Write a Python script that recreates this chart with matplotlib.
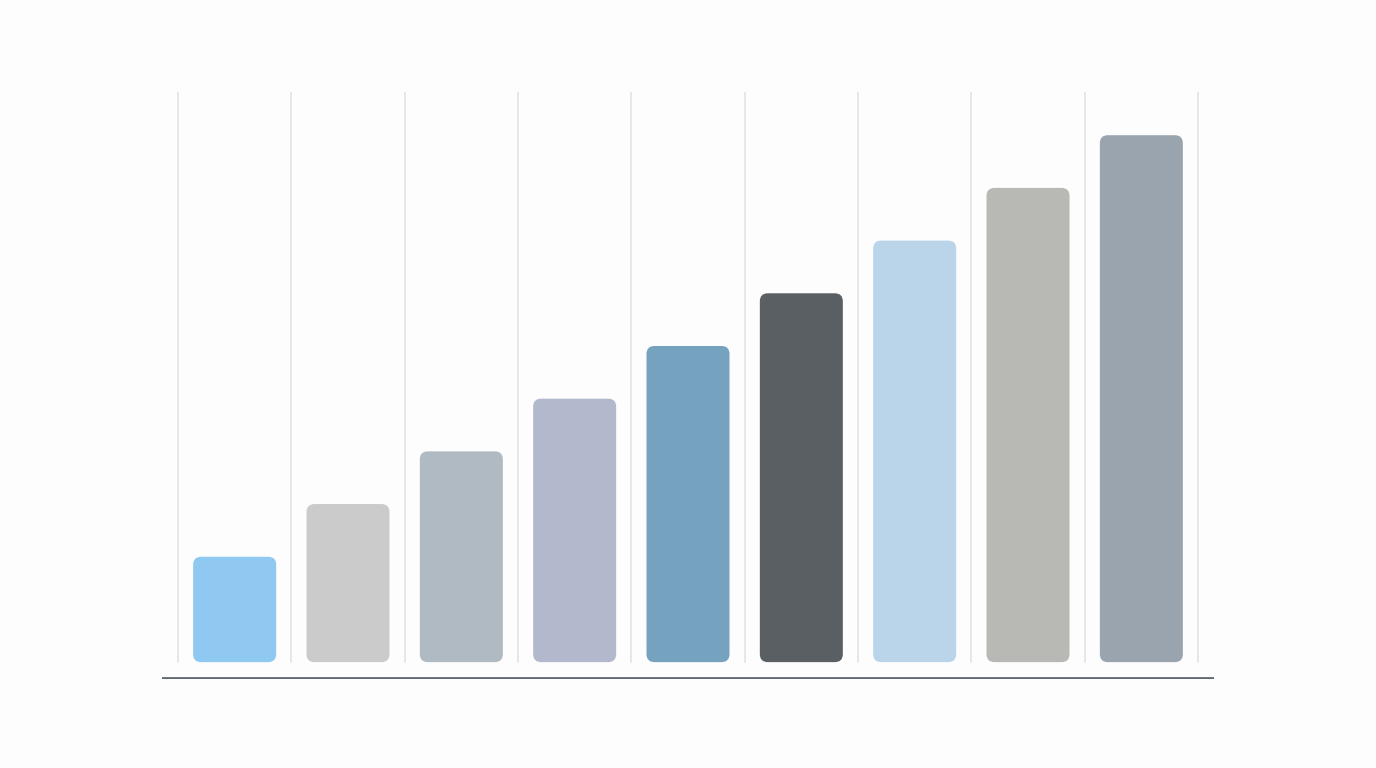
import matplotlib
matplotlib.use("Agg")
import matplotlib.pyplot as plt
from matplotlib.patches import FancyBboxPatch

# values (bar heights, arbitrary units)
categories = ["A", "B", "C", "D", "E", "F", "G", "H", "I"]
values = [2, 3, 4, 5, 6, 7, 8, 9, 10]
colors = ["#8FC8F0", "#CBCBCC", "#B0BAC2", "#B2B9CC", "#74A2BF",
          "#5A5F64", "#BAD5EA", "#B8B8B4", "#9AA4AE"]

W, H = 1376, 768
fig = plt.figure(figsize=(W / 100, H / 100), dpi=100)
fig.patch.set_facecolor("#FDFDFD")

# axes placed in pixel terms: left 162, right 1214, bottom 679, top 92
ax = fig.add_axes([162 / W, (H - 679) / H, (1214 - 162) / W, (679 - 92) / H])
ax.set_facecolor("none")

xmin, xmax = -0.641, 8.641
ymin, ymax = -0.32, 10.82
ax.set_xlim(xmin, xmax)
ax.set_ylim(ymin, ymax)
for s in ax.spines.values():
    s.set_visible(False)
ax.set_xticks([])
ax.set_yticks([])

# vertical separators between bars
for i in range(len(categories) + 1):
    ax.plot([i - 0.5, i - 0.5], [0, ymax], color="#DCE2E8", lw=1.1, zorder=1)

# baseline
ax.axhline(ymin + 0.01, color="#5E6975", lw=2, zorder=2)

# rounded bars
px_x = (1214 - 162) / (xmax - xmin)
px_y = (679 - 92) / (ymax - ymin)
bar_w = 83 / px_x
r = 8 / px_x
for i, (v, c) in enumerate(zip(values, colors)):
    patch = FancyBboxPatch((i - bar_w / 2, 0), bar_w, v,
                           boxstyle=f"round,pad=0,rounding_size={r}",
                           mutation_aspect=px_x / px_y,
                           facecolor=c, edgecolor="none", zorder=3)
    ax.add_patch(patch)

fig.savefig("out.png", dpi=100, facecolor=fig.get_facecolor())
